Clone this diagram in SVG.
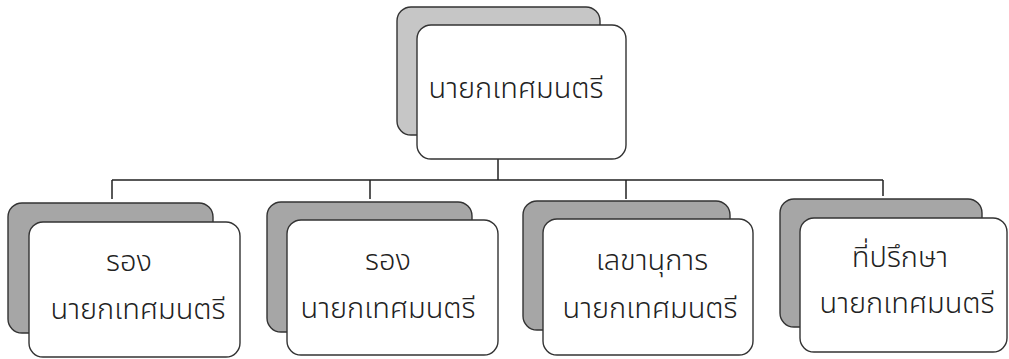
<svg xmlns="http://www.w3.org/2000/svg" width="1009" height="359" viewBox="0 0 1009 359">
<style>
.back{stroke:#333;stroke-width:1.4}
.backtop{fill:#c6c6c6}
.backbot{fill:#a6a6a6}
.front{fill:#fff;stroke:#333;stroke-width:1.4}
.conn{fill:none;stroke:#222;stroke-width:1.5}
text{font-family:"Noto Sans Thai","Noto Sans","DejaVu Sans",sans-serif;font-size:29px;font-weight:300;fill:#222;text-anchor:middle}
</style>
<rect width="1009" height="359" fill="#fff"/>
<g id="connectors">
<path class="conn" d="M498 159V180M112 180H883M112 180V199M370 180V199M626 180V199M883 180V196"/>
</g>
<g id="n0">
<rect class="back backtop" x="397" y="7" width="203" height="128" rx="14"/>
<rect class="front" x="417" y="25" width="209" height="134" rx="14"/>
<text x="516" y="98">นายกเทศมนตรี</text>
</g>
<g id="n1">
<rect class="back backbot" x="8" y="203" width="205" height="130" rx="14"/>
<rect class="front" x="29" y="222" width="211" height="135" rx="14"/>
<text x="129" y="271">รอง</text>
<text x="138" y="319">นายกเทศมนตรี</text>
</g>
<g id="n2">
<rect class="back backbot" x="267" y="202" width="205" height="130" rx="14"/>
<rect class="front" x="287" y="220" width="211" height="135" rx="14"/>
<text x="388" y="270">รอง</text>
<text x="388" y="318">นายกเทศมนตรี</text>
</g>
<g id="n3">
<rect class="back backbot" x="523" y="201" width="207" height="129" rx="14"/>
<rect class="front" x="543" y="219" width="210" height="136" rx="14"/>
<text x="652" y="270">เลขานุการ</text>
<text x="650" y="318">นายกเทศมนตรี</text>
</g>
<g id="n4">
<rect class="back backbot" x="780" y="199" width="202" height="128" rx="14"/>
<rect class="front" x="800" y="218" width="207" height="134" rx="14"/>
<text x="900" y="267">ที่ปรึกษา</text>
<text x="907" y="313">นายกเทศมนตรี</text>
</g>
</svg>
